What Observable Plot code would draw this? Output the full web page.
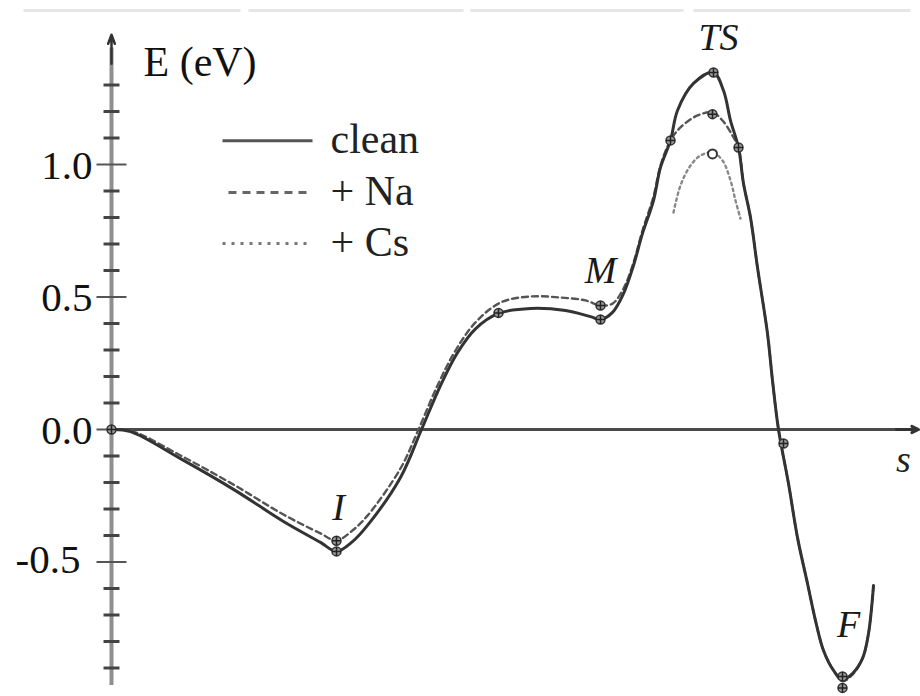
<!DOCTYPE html>
<html>
<head>
<meta charset="utf-8">
<script src="https://cdn.jsdelivr.net/npm/d3@7"></script>
<script src="https://cdn.jsdelivr.net/npm/@observablehq/plot@0.6"></script>
<style>
  html, body { margin: 0; padding: 0; background: #fff; }
  #chart svg { display: block; }
</style>
</head>
<body>
<div id="chart"></div>
<script>
// ---- data (reaction coordinate s, energy E in eV) ----
const cleanS = [0, 0.19, 0.69, 1.22, 1.72, 2.09, 2.25, 2.41, 2.56, 2.89, 3.10, 3.29, 3.46, 3.64, 3.87, 4.19, 4.54, 4.79, 4.89, 5.01, 5.12, 5.22, 5.31, 5.42, 5.49, 5.59, 5.66, 5.82, 6.02, 6.12, 6.19, 6.27, 6.32, 6.39, 6.46, 6.56, 6.61, 6.67, 6.77, 6.86, 6.96, 7.04, 7.12, 7.22, 7.31, 7.41, 7.51, 7.57, 7.62];
const cleanE = [0, -0.008, -0.11, -0.226, -0.347, -0.426, -0.46, -0.423, -0.362, -0.181, 0, 0.166, 0.29, 0.38, 0.438, 0.457, 0.449, 0.426, 0.415, 0.442, 0.513, 0.619, 0.74, 0.864, 0.989, 1.091, 1.204, 1.306, 1.347, 1.279, 1.166, 1.064, 0.928, 0.80, 0.611, 0.362, 0.185, 0, -0.204, -0.408, -0.581, -0.721, -0.834, -0.909, -0.943, -0.921, -0.864, -0.77, -0.589];

const naS = [0, 0.19, 0.69, 1.22, 1.72, 2.09, 2.25, 2.41, 2.56, 2.89, 3.07, 3.26, 3.44, 3.64, 3.89, 4.19, 4.49, 4.74, 4.89, 5.01, 5.12, 5.22, 5.31, 5.42, 5.49, 5.59, 5.69, 5.86, 6.01, 6.11, 6.21, 6.27, 6.32, 6.39, 6.46, 6.56, 6.61, 6.67, 6.77, 6.86, 6.96, 7.04, 7.12, 7.22, 7.31, 7.41, 7.51, 7.57, 7.62];
const naE = [0, -0.004, -0.098, -0.208, -0.321, -0.392, -0.419, -0.381, -0.325, -0.147, 0, 0.166, 0.298, 0.404, 0.479, 0.502, 0.498, 0.487, 0.468, 0.475, 0.532, 0.63, 0.751, 0.879, 0.996, 1.091, 1.14, 1.185, 1.196, 1.166, 1.109, 1.064, 0.928, 0.80, 0.611, 0.362, 0.185, 0, -0.204, -0.408, -0.581, -0.721, -0.834, -0.909, -0.95, -0.925, -0.864, -0.77, -0.589];

const csS = [5.62, 5.69, 5.79, 5.89, 6.01, 6.11, 6.19, 6.24, 6.29];
const csE = [0.819, 0.921, 0.996, 1.034, 1.045, 1.015, 0.94, 0.864, 0.796];

// stationary-point markers
const markS = [0, 2.25, 2.25, 3.87, 4.89, 4.89, 5.59, 6.02, 6.01, 6.27, 6.72, 7.31, 7.31];
const markE = [0, -0.46, -0.42, 0.44, 0.415, 0.468, 1.091, 1.347, 1.19, 1.064, -0.053, -0.932, -0.975];
const openS = [6.01];
const openE = [1.04];

// point labels
const pointLabels = ["I", "M", "TS", "F"];
const pointLabelS = [2.27, 4.89, 6.07, 7.37];
const pointLabelE = [-0.294, 0.60, 1.479, -0.736];

// axis ticks
const majorTicks = [-0.5, 0.0, 0.5, 1.0];
const majorTickLabels = ["-0.5", "0.0", "0.5", "1.0"];
const minorTicks = [-0.9, -0.8, -0.7, -0.6, -0.4, -0.3, -0.2, -0.1, 0.1, 0.2, 0.3, 0.4, 0.6, 0.7, 0.8, 0.9, 1.1, 1.2, 1.3];

// legend
const seriesNames = ["clean", "+ Na", "+ Cs"];

// faint border strip at top of the scanned figure
const stripStart = [-0.88, 1.37, 3.59, 5.82];
const stripEnd = [1.29, 3.52, 5.72, 7.99];

// ---- build tables ----
const zip = (xs, ys) => xs.map((s, i) => ({s, E: ys[i]}));
const clean = zip(cleanS, cleanE);
const na = zip(naS, naE);
const cs = zip(csS, csE);
const marks = zip(markS, markE);
const opens = zip(openS, openE);
const labels = pointLabels.map((t, i) => ({t, s: pointLabelS[i], E: pointLabelE[i]}));
const majors = majorTicks.map((v, i) => ({v, t: majorTickLabels[i]}));
const strip = stripStart.map((a, i) => ({a, b: stripEnd[i]}));

// legend layout (in data units)
const legX1 = 1.11, legX2 = 2.01, legTextX = 2.19;
const legY = [1.09, 0.894, 0.702];
const legend = seriesNames.map((t, i) => ({t, y: legY[i]}));

const serif = "Liberation Serif";

const chart = Plot.plot({
  width: 920,
  height: 696,
  margin: 0,
  x: {domain: [0, 8], range: [111, 911], axis: null},
  y: {domain: [-1, 1.5], range: [694, 31.5], axis: null},
  style: {background: "#fff"},
  marks: [
    // top strip
    Plot.link(strip, {x1: "a", x2: "b", y1: 1.581, y2: 1.581, stroke: "#e6e6e6", strokeWidth: 3}),
    // y axis
    Plot.ruleX([0], {y1: -0.966, y2: 1.44, stroke: "#8f8f8f", strokeWidth: 4}),
    Plot.arrow([0], {x1: 0, x2: 0, y1: 1.38, y2: 1.49, stroke: "#333", strokeWidth: 2.5, headLength: 12, headAngle: 40}),
    Plot.link(minorTicks, {x1: -0.08, x2: 0.08, y1: d => d, y2: d => d, stroke: "#444", strokeWidth: 3}),
    Plot.link(majors, {x1: -0.15, x2: 0.15, y1: "v", y2: "v", stroke: "#555", strokeWidth: 2}),
    Plot.text(majors.filter(d => d.v >= 0), {x: 0, y: "v", text: "t", textAnchor: "end", dx: -19, dy: 1, fontSize: 41, fontFamily: serif, fill: "#111"}),
    Plot.text(majors.filter(d => d.v < 0), {x: 0, y: "v", text: "t", textAnchor: "end", dx: -31, dy: -2, fontSize: 41, fontFamily: serif, fill: "#111"}),
    Plot.text(["E (eV)"], {x: 0.32, y: 1.385, text: d => d, textAnchor: "start", fontSize: 42, fontFamily: serif, fill: "#111"}),
    // x axis
    Plot.ruleY([0], {x1: 0, x2: 7.95, stroke: "#4a4a4a", strokeWidth: 3}),
    Plot.arrow([0], {x1: 7.85, x2: 8.07, y1: 0, y2: 0, stroke: "#333", strokeWidth: 3, headLength: 12, headAngle: 50}),
    Plot.text(["s"], {x: 7.92, y: -0.113, text: d => d, fontSize: 38, fontStyle: "italic", fontFamily: serif, fill: "#222"}),
    // curves
    Plot.line(na, {x: "s", y: "E", curve: "catmull-rom", stroke: "#555", strokeWidth: 2.4, strokeDasharray: "6,4"}),
    Plot.line(cs, {x: "s", y: "E", curve: "catmull-rom", stroke: "#888", strokeWidth: 2.4, strokeDasharray: "2.5,3.5"}),
    Plot.line(clean, {x: "s", y: "E", curve: "catmull-rom", stroke: "#333", strokeWidth: 3}),
    // markers
    Plot.dot(marks, {x: "s", y: "E", r: 4.5, fill: "#9a9a9a", stroke: "#333", strokeWidth: 1.5}),
    Plot.dot(marks, {x: "s", y: "E", r: 3, symbol: "plus", stroke: "#222", strokeWidth: 1.5}),
    Plot.dot(opens, {x: "s", y: "E", r: 4.5, fill: "#fff", stroke: "#333", strokeWidth: 2}),
    // point labels
    Plot.text(labels, {x: "s", y: "E", text: "t", fontSize: 38, fontStyle: "italic", fontFamily: serif, fill: "#1a1a1a"}),
    // legend
    Plot.link(legend.slice(0, 1), {x1: legX1, x2: legX2, y1: "y", y2: "y", stroke: "#555", strokeWidth: 3}),
    Plot.link(legend.slice(1, 2), {x1: legX1 + 0.06, x2: legX2, y1: "y", y2: "y", stroke: "#666", strokeWidth: 3, strokeDasharray: "8,6"}),
    Plot.link(legend.slice(2, 3), {x1: legX1, x2: legX2, y1: "y", y2: "y", stroke: "#777", strokeWidth: 3, strokeDasharray: "3,6"}),
    Plot.text(legend, {x: legTextX, y: "y", text: "t", textAnchor: "start", fontSize: 42, fontFamily: serif, fill: "#222", dy: -1})
  ]
});
document.getElementById("chart").appendChild(chart);
</script>
</body>
</html>
